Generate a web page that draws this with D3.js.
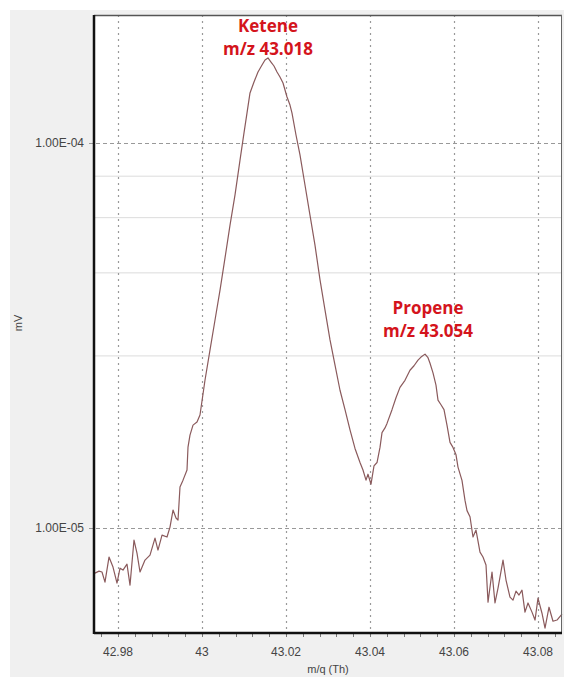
<!DOCTYPE html>
<html>
<head>
<meta charset="utf-8">
<script src="https://cdn.jsdelivr.net/npm/d3@7"></script>
<style>
  body { margin: 0; background: #fff; }
  svg { display: block; }
</style>
</head>
<body>
<div class="container"></div>
<script>
// mass spectrum, m/q vs signal (mV), log y axis
const mq = [42.97452, 42.97548, 42.97619, 42.97690, 42.97786, 42.97881, 42.97976, 42.98048, 42.98119, 42.98214,
  42.98286, 42.98381, 42.98452, 42.98524, 42.98643, 42.98762, 42.98881, 42.98952, 42.99048, 42.99167,
  42.99238, 42.99310, 42.99381, 42.99429, 42.99476, 42.99548, 42.99643, 42.99667, 42.99714, 42.99786,
  42.99881, 42.99952, 43.00071, 43.00190, 43.00310, 43.00429, 43.00548, 43.00667, 43.00786, 43.00905,
  43.01000, 43.01071, 43.01143, 43.01238, 43.01333, 43.01429, 43.01500, 43.01571, 43.01643, 43.01714,
  43.01786, 43.01857, 43.01929, 43.02024, 43.02095, 43.02143, 43.02238, 43.02333, 43.02452, 43.02571,
  43.02690, 43.02810, 43.02929, 43.03048, 43.03167, 43.03286, 43.03405, 43.03524, 43.03643, 43.03762,
  43.03833, 43.03905, 43.03952, 43.04024, 43.04095, 43.04167, 43.04238, 43.04286, 43.04357, 43.04405,
  43.04524, 43.04619, 43.04714, 43.04833, 43.04952, 43.05048, 43.05143, 43.05214, 43.05310, 43.05381,
  43.05429, 43.05500, 43.05571, 43.05619, 43.05690, 43.05762, 43.05833, 43.05905, 43.05976, 43.06048,
  43.06095, 43.06190, 43.06262, 43.06310, 43.06381, 43.06452, 43.06524, 43.06619, 43.06690, 43.06762,
  43.06810, 43.06905, 43.06976, 43.07048, 43.07167, 43.07238, 43.07333, 43.07405, 43.07476, 43.07548,
  43.07619, 43.07690, 43.07762, 43.07857, 43.07929, 43.08000, 43.08095, 43.08167, 43.08262, 43.08357,
  43.08452, 43.08571];

const signal = [7.64e-6, 7.73e-6, 7.69e-6, 7.24e-6, 8.41e-6, 7.92e-6, 7.20e-6, 7.87e-6, 7.78e-6, 8.06e-6,
  7.11e-6, 9.31e-6, 8.61e-6, 7.69e-6, 8.26e-6, 8.51e-6, 9.42e-6, 8.77e-6, 9.59e-6, 9.48e-6,
  1.006e-5, 1.114e-5, 1.062e-5, 1.049e-5, 1.278e-5, 1.332e-5, 1.415e-5, 1.623e-5, 1.744e-5, 1.851e-5,
  1.885e-5, 1.966e-5, 2.42e-5, 2.90e-5, 3.47e-5, 4.15e-5, 5.03e-5, 6.12e-5, 7.33e-5, 9.03e-5,
  1.062e-4, 1.196e-4, 1.349e-4, 1.440e-4, 1.529e-4, 1.594e-4, 1.643e-4, 1.663e-4, 1.623e-4, 1.585e-4,
  1.529e-4, 1.484e-4, 1.432e-4, 1.317e-4, 1.255e-4, 1.196e-4, 1.049e-4, 9.31e-5, 7.78e-5, 6.50e-5,
  5.43e-5, 4.41e-5, 3.68e-5, 3.08e-5, 2.65e-5, 2.28e-5, 2.03e-5, 1.80e-5, 1.61e-5, 1.48e-5,
  1.415e-5, 1.332e-5, 1.38e-5, 1.30e-5, 1.45e-5, 1.48e-5, 1.62e-5, 1.77e-5, 1.82e-5, 1.87e-5,
  2.03e-5, 2.18e-5, 2.32e-5, 2.42e-5, 2.57e-5, 2.64e-5, 2.73e-5, 2.78e-5, 2.83e-5, 2.77e-5,
  2.68e-5, 2.53e-5, 2.35e-5, 2.15e-5, 2.09e-5, 2.03e-5, 1.85e-5, 1.67e-5, 1.62e-5, 1.55e-5,
  1.44e-5, 1.33e-5, 1.18e-5, 1.11e-5, 1.07e-5, 9.48e-6, 9.88e-6, 8.66e-6, 8.41e-6, 8.02e-6,
  6.42e-6, 7.69e-6, 6.39e-6, 6.98e-6, 8.26e-6, 7.33e-6, 6.62e-6, 6.50e-6, 6.86e-6, 6.70e-6,
  6.90e-6, 6.05e-6, 6.39e-6, 6.05e-6, 5.77e-6, 6.58e-6, 6.01e-6, 5.50e-6, 6.23e-6, 5.73e-6,
  5.77e-6, 5.98e-6];

const xTicks = [42.98, 43, 43.02, 43.04, 43.06, 43.08];
const xTickLabels = ['42.98', '43', '43.02', '43.04', '43.06', '43.08'];
const yTicks = [1e-4, 1e-5];
const yTickLabels = ['1.00E-04', '1.00E-05'];
const yMinorGrid = [2.8e-5, 4.6e-5, 6.4e-5, 8.2e-5];

const peakNames = ['Ketene', 'Propene'];
const peakLabels = ['m/z 43.018', 'm/z 43.054'];
const peakAt = [43.0157, 43.0538];
const peakTop = [1.94e-4, 3.6e-5]; // where the label block sits

const W = 564, H = 677;
const margin = {top: 15, right: 2, bottom: 44, left: 94};

const svg = d3.select('.container')
  .append('svg')
  .attr('width', W)
  .attr('height', H);

// grey panel
svg.append('rect')
  .attr('x', 10).attr('y', 10)
  .attr('width', W - 10).attr('height', H - 10)
  .attr('fill', '#f0f0f0');

const x = d3.scaleLinear()
  .domain([42.974286, 43.085714])
  .range([margin.left, W - margin.right]);

const y = d3.scaleLog()
  .domain([5.34e-6, 2.15e-4])
  .range([H - margin.bottom, margin.top]);

svg.append('rect')
  .attr('x', margin.left).attr('y', margin.top)
  .attr('width', W - margin.left - margin.right)
  .attr('height', H - margin.top - margin.bottom)
  .attr('fill', '#fff');

const grid = svg.append('g');

// minor horizontal grid (solid, light)
grid.selectAll('.hminor')
  .data(yMinorGrid)
  .join('line')
  .attr('x1', margin.left).attr('x2', W - margin.right)
  .attr('y1', d => y(d)).attr('y2', d => y(d))
  .attr('stroke', '#dcdcdc')
  .attr('stroke-width', 1);

// major horizontal grid (dashed)
grid.selectAll('.hmajor')
  .data(yTicks)
  .join('line')
  .attr('x1', margin.left - 5).attr('x2', W - margin.right)
  .attr('y1', d => Math.round(y(d)) + 0.5).attr('y2', d => Math.round(y(d)) + 0.5)
  .attr('stroke', '#999')
  .attr('stroke-dasharray', '4,3');

// vertical grid (dotted)
grid.selectAll('.vmajor')
  .data(xTicks)
  .join('line')
  .attr('x1', d => Math.round(x(d)) + 0.5).attr('x2', d => Math.round(x(d)) + 0.5)
  .attr('y1', margin.top).attr('y2', H - margin.bottom + 5)
  .attr('stroke', '#999')
  .attr('stroke-width', 1.2)
  .attr('stroke-dasharray', '2,4');

// curve
const line = d3.line()
  .x((d, i) => x(mq[i]))
  .y(d => y(d));

svg.append('path')
  .attr('d', line(signal))
  .attr('fill', 'none')
  .attr('stroke', '#8a5a5c')
  .attr('stroke-width', 1.2)
  .attr('stroke-linejoin', 'round');

// frame
const x0 = margin.left, x1 = W - margin.right, y0 = margin.top, y1 = H - margin.bottom;
svg.append('line').attr('x1', x0).attr('x2', x1).attr('y1', y0 + 0.5).attr('y2', y0 + 0.5)
  .attr('stroke', '#555').attr('stroke-width', 1.5);
svg.append('line').attr('x1', x1 - 0.5).attr('x2', x1 - 0.5).attr('y1', y0).attr('y2', y1)
  .attr('stroke', '#666').attr('stroke-width', 1);

// x axis with minor ticks
const xAxis = svg.append('g')
  .attr('transform', `translate(0,${y1})`);
const minorX = d3.range(42.976, 43.0857, 0.004);
xAxis.selectAll('.minor')
  .data(minorX)
  .join('line')
  .attr('x1', d => Math.round(x(d)) + 0.5).attr('x2', d => Math.round(x(d)) + 0.5)
  .attr('y1', 0).attr('y2', 4)
  .attr('stroke', '#777');
xAxis.selectAll('.lab')
  .data(xTicks)
  .join('text')
  .attr('x', d => x(d))
  .attr('y', 23)
  .attr('text-anchor', 'middle')
  .attr('font-family', 'Liberation Sans, Arial, sans-serif')
  .attr('font-size', 12)
  .attr('fill', '#444')
  .text((d, i) => xTickLabels[i]);

svg.append('line').attr('x1', x0).attr('x2', x1).attr('y1', y1).attr('y2', y1)
  .attr('stroke', '#111').attr('stroke-width', 2.5);
svg.append('line').attr('x1', x0).attr('x2', x0).attr('y1', y0).attr('y2', y1 + 1)
  .attr('stroke', '#111').attr('stroke-width', 2.5);

// y labels
svg.selectAll('.ylab')
  .data(yTicks)
  .join('text')
  .attr('x', margin.left - 10)
  .attr('y', d => y(d) + 4)
  .attr('text-anchor', 'end')
  .attr('font-family', 'Liberation Sans, Arial, sans-serif')
  .attr('font-size', 12)
  .attr('fill', '#444')
  .text((d, i) => yTickLabels[i]);

// axis titles
svg.append('text')
  .attr('x', (x0 + x1) / 2)
  .attr('y', 673)
  .attr('text-anchor', 'middle')
  .attr('font-family', 'Liberation Sans, Arial, sans-serif')
  .attr('font-size', 11)
  .attr('fill', '#444')
  .text('m/q (Th)');

svg.append('text')
  .attr('transform', 'translate(22,323) rotate(-90)')
  .attr('text-anchor', 'middle')
  .attr('font-family', 'Liberation Sans, Arial, sans-serif')
  .attr('font-size', 11)
  .attr('fill', '#444')
  .text('mV');

// peak annotations
const notes = svg.selectAll('.note')
  .data(peakNames)
  .join('g')
  .attr('transform', (d, i) => `translate(${x(peakAt[i])},${y(peakTop[i])})`)
  .attr('font-family', 'Open Sans, sans-serif')
  .attr('font-weight', 'bold')
  .attr('font-size', 17)
  .attr('fill', '#d4141c')
  .attr('text-anchor', 'middle');
notes.append('text').attr('y', 0).text(d => d);
notes.append('text').attr('y', 23).text((d, i) => peakLabels[i]);
</script>
</body>
</html>
